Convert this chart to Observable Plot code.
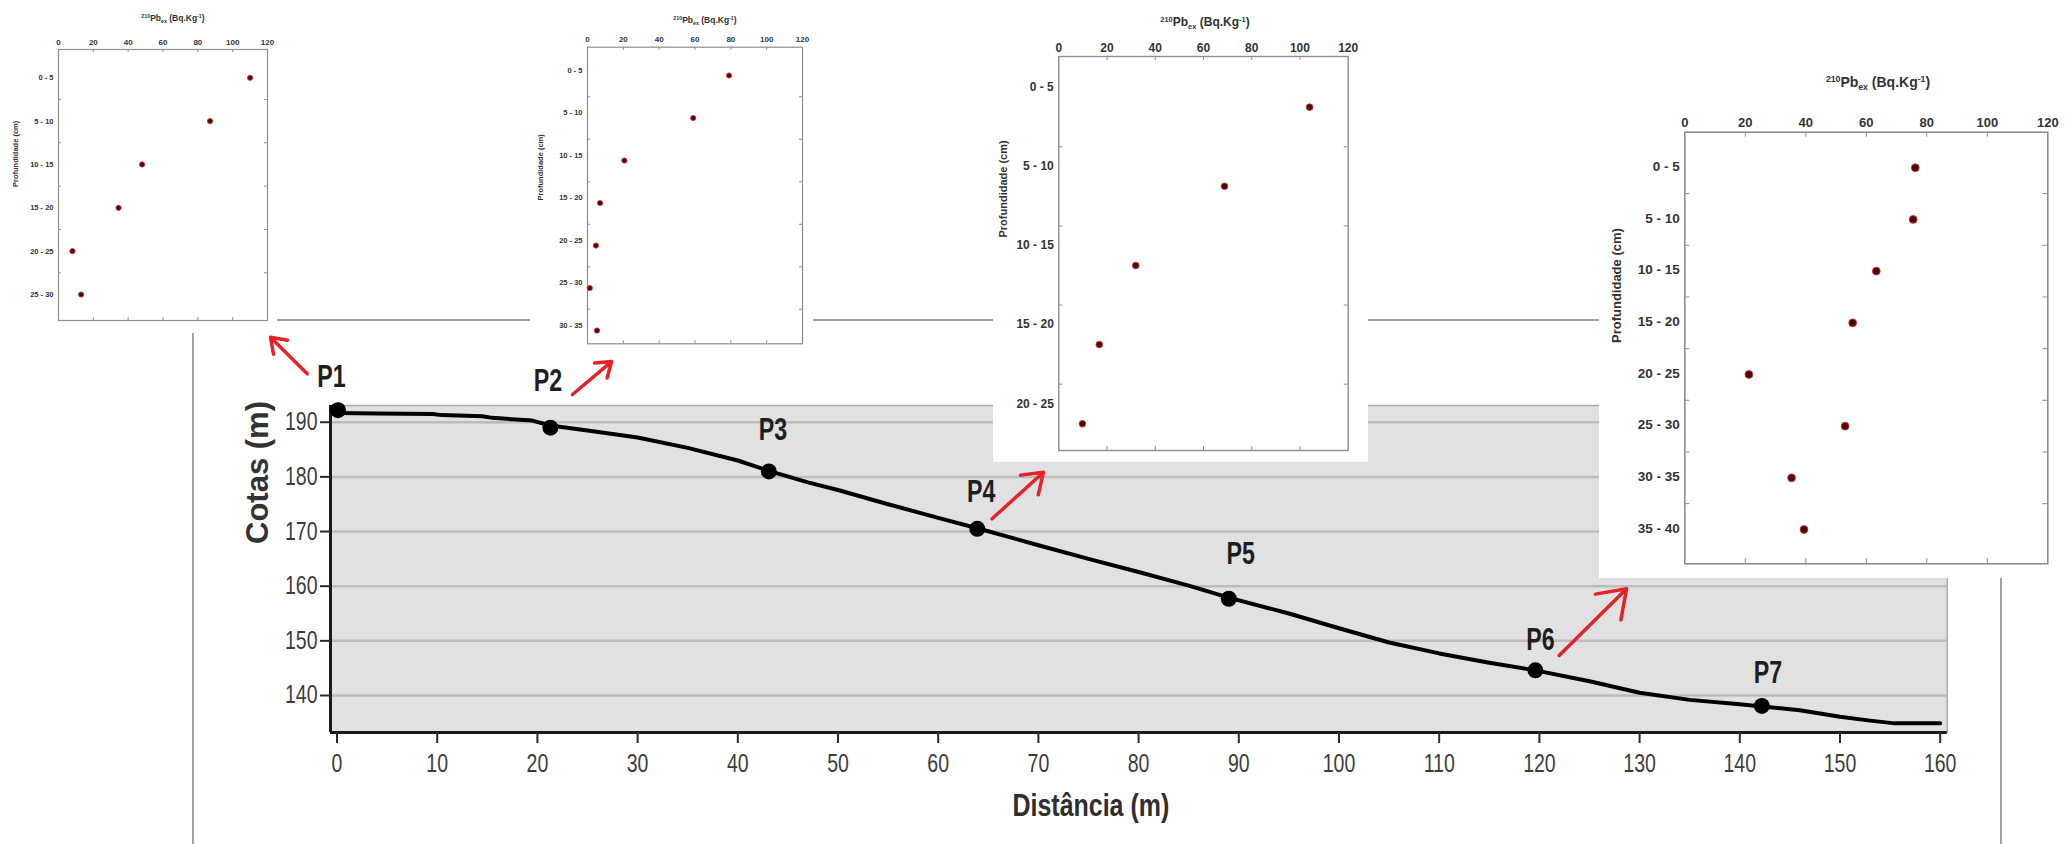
<!DOCTYPE html>
<html>
<head>
<meta charset="utf-8">
<script src="https://cdn.jsdelivr.net/npm/d3@7"></script>
<script src="https://cdn.jsdelivr.net/npm/@observablehq/plot@0.6"></script>
<style>
  html, body { margin: 0; padding: 0; background: #fff; }
  #root { position: relative; width: 2072px; height: 844px; overflow: hidden; background: #fff; }
  #outerBox { position: absolute; left: 192px; top: 319px; width: 1806px; height: 600px;
              border: 2px solid #a3a3a3; border-bottom: none; }
  #main { position: absolute; left: 0; top: 0; }
  #main svg { overflow: visible; }
  .inset { position: absolute; background: #fff; }
  .inset svg { position: absolute; left: 0; top: 0; overflow: visible; }
  .ititle { position: absolute; transform: translate(-50%, -50%); white-space: nowrap;
            font-family: "Liberation Sans", Arial, sans-serif; font-weight: bold; color: #333; line-height: 1; }
  .ititle sup { font-size: 0.62em; vertical-align: 0.55em; line-height: 0; }
  .ititle sub { font-size: 0.62em; vertical-align: -0.4em; line-height: 0; }
</style>
</head>
<body>
<div id="root">
  <div id="outerBox"></div>
  <div id="main"></div>
</div>
<script>
// ---------------- data ----------------
const distTicks = [0, 10, 20, 30, 40, 50, 60, 70, 80, 90, 100, 110, 120, 130, 140, 150, 160];
const elevTicks = [140, 150, 160, 170, 180, 190];

// terrain profile: distance (m) and elevation (m)
const profileDist = [0.1, 4, 9.5, 10.5, 14.5, 15.5, 19.5, 21.3, 25, 30, 35, 40, 43.1, 47, 50, 55, 60, 63.9,
                     70, 75, 80, 85, 89.0, 95, 100, 105, 110, 115, 119.6, 125, 130, 135, 140, 142.2, 146,
                     150, 153, 155.5, 160];
const profileElev = [191.7, 191.6, 191.5, 191.3, 191.1, 190.8, 190.3, 189.4, 188.5, 187.2, 185.3, 183.0, 181.1,
                     179.0, 177.6, 175.0, 172.5, 170.6, 167.5, 165.0, 162.6, 160.1, 157.9, 155.0, 152.3, 149.7,
                     147.7, 146.0, 144.6, 142.6, 140.5, 139.2, 138.4, 138.0, 137.3, 136.1, 135.4, 134.9, 134.9];

// sampling points
const siteNames = ["P1", "P2", "P3", "P4", "P5", "P6", "P7"];
const siteDist  = [0.1, 21.3, 43.1, 63.9, 89.0, 119.6, 142.2];
const siteElev  = [192.2, 189.0, 181.0, 170.5, 157.7, 144.6, 138.1];

// 210Pb_ex profiles (Bq.Kg-1) by depth layer (cm)
const pbTicks = [0, 20, 40, 60, 80, 100, 120];
const depthP1 = ["0 - 5", "5 - 10", "10 - 15", "15 - 20", "20 - 25", "25 - 30"];
const pbP1    = [110, 87, 48, 34.5, 8, 13];
const depthP2 = ["0 - 5", "5 - 10", "10 - 15", "15 - 20", "20 - 25", "25 - 30", "30 - 35"];
const pbP2    = [79, 59, 20.6, 7, 4.7, 1.3, 5.3];
const depthP4 = ["0 - 5", "5 - 10", "10 - 15", "15 - 20", "20 - 25"];
const pbP4    = [104, 68.7, 31.9, 16.8, 9.8];
const depthP6 = ["0 - 5", "5 - 10", "10 - 15", "15 - 20", "20 - 25", "25 - 30", "30 - 35", "35 - 40"];
const pbP6    = [76.2, 75.5, 63.3, 55.5, 21.2, 53.0, 35.3, 39.4];

// annotation arrows (from a site toward its profile), in chart units
const arrowFromDist = [-2.97, 23.5, 65.37, 121.97];
const arrowFromElev = [198.85, 195.07, 172.33, 147.32];
const arrowToDist   = [-6.64, 27.4, 70.5, 128.7];
const arrowToElev   = [205.55, 201.1, 180.85, 159.52];

// ---------------- layout ----------------
const SANS = "'Liberation Sans',Arial,sans-serif";
const X_DOMAIN = [-0.65, 160.7];
const Y_DOMAIN = [133.23, 193.06];
const labelOffsets = [[-6.5, -33], [-2.5, -46.5], [4, -41], [4, -36.5], [12, -44.5], [5, -30], [6, -32.5]];

const profile = profileDist.map((d, i) => ({dist: d, elev: profileElev[i]}));
const sites = siteNames.map((n, i) => ({name: n, dist: siteDist[i], elev: siteElev[i]}));
const arrows = arrowFromDist.map((d, i) => ({x1: d, y1: arrowFromElev[i], x2: arrowToDist[i], y2: arrowToElev[i]}));

const mainPlot = Plot.plot({
  width: 2072, height: 844,
  marginLeft: 330, marginRight: 125.3, marginTop: 405, marginBottom: 112,
  x: {domain: X_DOMAIN},
  y: {domain: Y_DOMAIN},
  style: {fontFamily: SANS, fontSize: "25px", color: "#3c3c3c", background: "transparent", overflow: "visible"},
  marks: [
    Plot.frame({fill: "#e1e1e1", stroke: "#ababab", strokeWidth: 1.5}),
    Plot.gridY(elevTicks, {stroke: "#bcbcbc", strokeOpacity: 1, strokeWidth: 2.5}),
    Plot.ruleX([X_DOMAIN[0]], {stroke: "#1a1a1a", strokeWidth: 3}),
    Plot.ruleY([Y_DOMAIN[0]], {stroke: "#1a1a1a", strokeWidth: 3}),
    Plot.axisY(elevTicks, {tickSize: 10, tickPadding: 3, stroke: "#2a2a2a", strokeWidth: 2,
                           fill: "#3c3c3c", fontSize: 25, label: null}),
    Plot.axisX(distTicks, {tickSize: 11, tickPadding: 11, stroke: "#2a2a2a", strokeWidth: 2,
                           fill: "#3c3c3c", fontSize: 25, label: null}),
    Plot.line(profile, {x: "dist", y: "elev", stroke: "#000", strokeWidth: 4}),
    Plot.dot(sites, {x: "dist", y: "elev", r: 8, fill: "#000"}),
    ...sites.map((s, i) => Plot.text([s], {x: "dist", y: "elev", text: "name",
      dx: labelOffsets[i][0], dy: labelOffsets[i][1], fontSize: 31, fontWeight: "bold", fill: "#1e1e1e"})),
    Plot.arrow(arrows, {x1: "x1", y1: "y1", x2: "x2", y2: "y2", stroke: "#e42228",
                        strokeWidth: 3.5, headLength: 15, headAngle: 70}),
    Plot.text(["Cotas (m)"], {frameAnchor: "left", rotate: -90, dx: -72, dy: -25, fontSize: 31,
                              fontWeight: "bold", fill: "#333"}),
    Plot.text(["Distância (m)"], {frameAnchor: "bottom", dx: -48, dy: 83, fontSize: 32,
                                  fontWeight: "bold", fill: "#2e2e2e"})
  ]
});
document.getElementById("main").appendChild(mainPlot);

// condensed look (the original uses a narrow typeface): compress glyphs horizontally
function condense(text, factor) {
  const w = text.getComputedTextLength();
  if (w > 0) {
    text.setAttribute("textLength", (w * factor).toFixed(1));
    text.setAttribute("lengthAdjust", "spacingAndGlyphs");
  }
}
mainPlot.querySelectorAll("text").forEach(t => {
  const s = t.textContent;
  if (s === "Cotas (m)") return;
  if (siteNames.includes(s)) condense(t, 0.75);
  else if (s === "Distância (m)") condense(t, 0.78);
  else condense(t, 0.78);
});

// ---------------- inset profiles ----------------
const mid = s => { const [a, b] = s.split("-").map(t => +t.trim()); return (a + b) / 2; };

function drawInset(depths, values, c) {
  const root = document.getElementById("root");
  const box = document.createElement("div");
  box.className = "inset";
  Object.assign(box.style, {left: c.left + "px", top: c.top + "px", width: c.width + "px", height: c.height + "px"});
  root.appendChild(box);

  const innerW = c.width - c.mL - c.mR, innerH = c.height - c.mT - c.mB;
  const xMax = pbTicks[pbTicks.length - 1];
  const ty = c.tickLen * (c.yDomain[1] - c.yDomain[0]) / innerH;
  const tx = c.tickLen * xMax / innerW;
  const rows = depths.map((d, i) => ({label: d, depth: mid(d), value: values[i]}));
  const bounds = depths.slice(1).map(d => +d.split("-")[0].trim());
  const minor = pbTicks.slice(1, -1);
  const frameColor = "#8d8d8d";

  const svg = Plot.plot({
    width: c.width, height: c.height,
    marginLeft: c.mL, marginRight: c.mR, marginTop: c.mT, marginBottom: c.mB,
    x: {domain: [pbTicks[0], xMax]},
    y: {domain: c.yDomain, reverse: true, axis: null},
    style: {fontFamily: SANS, fontWeight: "bold", color: "#333", background: "transparent", overflow: "visible"},
    marks: [
      Plot.frame({stroke: frameColor, strokeWidth: c.frameW}),
      Plot.ruleX(minor, {x: d => d, y1: () => c.yDomain[0], y2: () => c.yDomain[0] + ty, stroke: frameColor, strokeWidth: 1}),
      Plot.ruleX(minor, {x: d => d, y1: () => c.yDomain[1], y2: () => c.yDomain[1] - ty, stroke: frameColor, strokeWidth: 1}),
      Plot.ruleY(bounds, {y: d => d, x1: () => 0, x2: () => tx, stroke: frameColor, strokeWidth: 1}),
      Plot.ruleY(bounds, {y: d => d, x1: () => xMax, x2: () => xMax - tx, stroke: frameColor, strokeWidth: 1}),
      Plot.axisX(pbTicks, {anchor: "top", tickSize: 0, tickPadding: c.tickPad, fontSize: c.tickFont,
                           fill: "#333", label: null}),
      Plot.text(rows, {y: "depth", text: "label", frameAnchor: "left", textAnchor: "end",
                       dx: -5, dy: c.labelDy, fontSize: c.catFont, fill: "#333"}),
      Plot.dot(rows, {x: "value", y: "depth", r: c.r, fill: "#4a0606", stroke: "#d33430", strokeWidth: 0.9}),
      Plot.text(["Profundidade (cm)"], {frameAnchor: "left", rotate: -90, dx: c.ylabDx, dy: c.ylabDy,
                                        fontSize: c.ylabFont, fill: "#333"})
    ]
  });
  box.appendChild(svg);

  const t = document.createElement("div");
  t.className = "ititle";
  Object.assign(t.style, {left: c.titleX + "px", top: c.titleY + "px", fontSize: c.titleFont + "px"});
  t.innerHTML = "<sup>210</sup>Pb<sub>ex</sub> (Bq.Kg<sup>-1</sup>)";
  box.appendChild(t);
}

drawInset(depthP1, pbP1, {left: 0, top: 0, width: 277, height: 333, mL: 58, mR: 10, mT: 49, mB: 13,
  yDomain: [-0.76, 30.5], r: 2.6, frameW: 1.2, tickLen: 3, tickPad: 5, tickFont: 8, catFont: 7.5,
  labelDy: 0, titleX: 173, titleY: 18, titleFont: 8.5, ylabDx: -43, ylabDy: 2, ylabFont: 7.5});

drawInset(depthP2, pbP2, {left: 530, top: 0, width: 283, height: 352, mL: 57, mR: 11, mT: 46.7, mB: 8.7,
  yDomain: [-0.83, 34.06], r: 2.6, frameW: 1.2, tickLen: 3, tickPad: 5, tickFont: 8, catFont: 7.5,
  labelDy: -5, titleX: 175, titleY: 20, titleFont: 8.5, ylabDx: -47, ylabDy: 5, ylabFont: 7.5});

drawInset(depthP4, pbP4, {left: 993, top: 0, width: 375, height: 462, mL: 65.3, mR: 20.3, mT: 56, mB: 12,
  yDomain: [-0.70, 24.19], r: 3.3, frameW: 1.4, tickLen: 4, tickPad: 5, tickFont: 12, catFont: 12,
  labelDy: -20, titleX: 212, titleY: 21.7, titleFont: 12, ylabDx: -55, ylabDy: -16, ylabFont: 11});

drawInset(depthP6, pbP6, {left: 1599, top: 40, width: 473, height: 538, mL: 85.3, mR: 24.7, mT: 91.7, mB: 14.7,
  yDomain: [-0.94, 40.82], r: 3.9, frameW: 1.6, tickLen: 5, tickPad: 5, tickFont: 13, catFont: 13.5,
  labelDy: -1, titleX: 279, titleY: 41.7, titleFont: 14, ylabDx: -67.6, ylabDy: -5, ylabFont: 13});
</script>
</body>
</html>
